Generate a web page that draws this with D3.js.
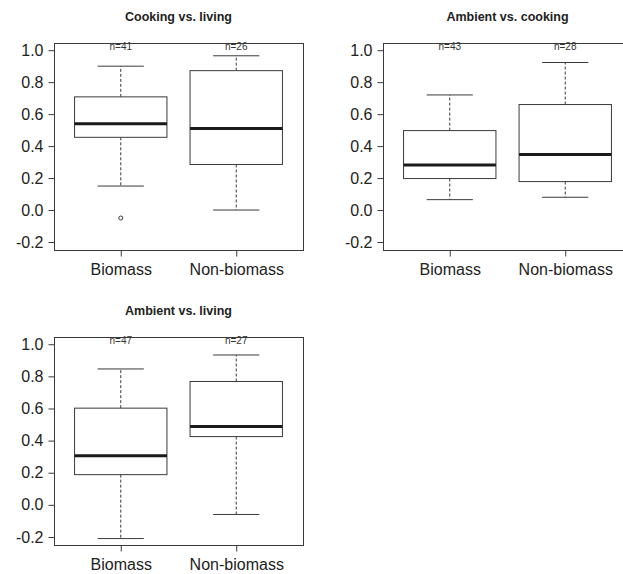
<!DOCTYPE html>
<html>
<head>
<meta charset="utf-8">
<script src="https://cdn.jsdelivr.net/npm/d3@7"></script>
<style>
  html, body { margin: 0; padding: 0; background: #fff; }
  svg { display: block; font-family: "Liberation Sans", Arial, sans-serif; }
</style>
</head>
<body>
<div id="chart"></div>
<script>
// --- data ---
const categories = ['Biomass', 'Non-biomass'];
const titles = ['Cooking vs. living', 'Ambient vs. cooking', 'Ambient vs. living'];
const counts = [[41, 26], [43, 28], [47, 27]];
const lowerWhisker = [[0.15, 0.00], [0.065, 0.08], [-0.21, -0.06]];
const lowerQuartile = [[0.455, 0.285], [0.197, 0.178], [0.188, 0.425]];
const medians = [[0.54, 0.51], [0.282, 0.348], [0.305, 0.488]];
const upperQuartile = [[0.708, 0.872], [0.497, 0.66], [0.602, 0.768]];
const upperWhisker = [[0.90, 0.965], [0.72, 0.923], [0.846, 0.933]];
const outliers = [[[-0.05], []], [[], []], [[], []]];
const yTicks = [-0.2, 0.0, 0.2, 0.4, 0.6, 0.8, 1.0];
const yTickLabels = ['-0.2', '0.0', '0.2', '0.4', '0.6', '0.8', '1.0'];
const yDomain = [-0.25, 1.045];

const W = 623, H = 574;
// plot region of each panel (the second one runs past the right edge)
const panels = [
  { left: 54, top: 43, width: 249, height: 207 },
  { left: 383, top: 43, width: 249, height: 207 },
  { left: 54, top: 337, width: 249, height: 208 }
];

const lineColor = '#3a3a3a';
const font = '"Liberation Sans", Arial, sans-serif';

const svg = d3.select('#chart').append('svg')
  .attr('width', W)
  .attr('height', H);

panels.forEach((p, pi) => {
  const x = d3.scalePoint()
    .domain(categories)
    .range([p.left, p.left + p.width])
    .padding(0.578);

  const y = d3.scaleLinear()
    .domain(yDomain)
    .range([p.top + p.height, p.top]);

  const boxW = x.step() * 0.8;
  const capW = boxW * 0.5;

  const g = svg.append('g');

  // frame
  g.append('rect')
    .attr('x', p.left + 0.5)
    .attr('y', p.top + 0.5)
    .attr('width', p.width)
    .attr('height', p.height)
    .attr('fill', 'none')
    .attr('stroke', lineColor)
    .attr('stroke-width', 1);

  // y axis: R style, line spans first to last tick
  const yAxis = g.append('g')
    .attr('transform', `translate(${p.left + 0.5},0)`)
    .call(d3.axisLeft(y)
      .tickValues(yTicks)
      .tickSize(6)
      .tickPadding(5)
      .tickFormat((d, i) => yTickLabels[i]));
  yAxis.select('.domain').remove();
  yAxis.selectAll('.tick line').attr('stroke', lineColor);
  yAxis.selectAll('.tick text')
    .attr('fill', '#222')
    .style('font-size', '16px')
    .style('font-family', font);
  yAxis.append('line')
    .attr('x1', 0).attr('x2', 0)
    .attr('y1', y(yTicks[0]))
    .attr('y2', y(yTicks[yTicks.length - 1]))
    .attr('stroke', lineColor);

  // x axis
  const xAxis = g.append('g')
    .attr('transform', `translate(0,${p.top + p.height + 0.5})`)
    .call(d3.axisBottom(x).tickSize(6).tickPadding(6));
  xAxis.select('.domain').remove();
  xAxis.selectAll('.tick line').attr('stroke', lineColor);
  xAxis.selectAll('.tick text')
    .attr('fill', '#222')
    .attr('dy', '0.76em')
    .style('font-size', '16px')
    .style('font-family', font);

  // title
  g.append('text')
    .attr('x', p.left + p.width / 2)
    .attr('y', p.top - 22.5)
    .attr('text-anchor', 'middle')
    .attr('font-weight', 'bold')
    .attr('font-size', '12.5px')
    .attr('fill', '#222')
    .text(titles[pi]);

  const rows = categories.map((c, i) => ({
    cat: c,
    lo: lowerWhisker[pi][i],
    q1: lowerQuartile[pi][i],
    med: medians[pi][i],
    q3: upperQuartile[pi][i],
    hi: upperWhisker[pi][i],
    out: outliers[pi][i],
    n: counts[pi][i]
  }));

  const box = g.selectAll('g.box')
    .data(rows)
    .join('g')
    .attr('class', 'box');

  // whiskers
  box.append('line')
    .attr('x1', d => x(d.cat)).attr('x2', d => x(d.cat))
    .attr('y1', d => y(d.q3)).attr('y2', d => y(d.hi))
    .attr('stroke', lineColor)
    .attr('stroke-dasharray', '3,2');
  box.append('line')
    .attr('x1', d => x(d.cat)).attr('x2', d => x(d.cat))
    .attr('y1', d => y(d.q1)).attr('y2', d => y(d.lo))
    .attr('stroke', lineColor)
    .attr('stroke-dasharray', '3,2');

  // staples
  box.append('line')
    .attr('x1', d => x(d.cat) - capW / 2).attr('x2', d => x(d.cat) + capW / 2)
    .attr('y1', d => y(d.hi)).attr('y2', d => y(d.hi))
    .attr('stroke', lineColor);
  box.append('line')
    .attr('x1', d => x(d.cat) - capW / 2).attr('x2', d => x(d.cat) + capW / 2)
    .attr('y1', d => y(d.lo)).attr('y2', d => y(d.lo))
    .attr('stroke', lineColor);

  // box
  box.append('rect')
    .attr('x', d => x(d.cat) - boxW / 2)
    .attr('y', d => y(d.q3))
    .attr('width', boxW)
    .attr('height', d => y(d.q1) - y(d.q3))
    .attr('fill', '#fff')
    .attr('stroke', lineColor);

  // median
  box.append('line')
    .attr('x1', d => x(d.cat) - boxW / 2).attr('x2', d => x(d.cat) + boxW / 2)
    .attr('y1', d => y(d.med)).attr('y2', d => y(d.med))
    .attr('stroke', '#1a1a1a')
    .attr('stroke-width', 3);

  // outliers
  box.selectAll('circle')
    .data(d => d.out.map(v => ({ cat: d.cat, v })))
    .join('circle')
    .attr('cx', d => x(d.cat))
    .attr('cy', d => y(d.v))
    .attr('r', 2)
    .attr('fill', 'none')
    .attr('stroke', lineColor);

  // sample size labels
  box.append('text')
    .attr('x', d => x(d.cat))
    .attr('y', p.top + 6.5)
    .attr('text-anchor', 'middle')
    .attr('font-size', '10px')
    .attr('fill', '#333')
    .text(d => `n=${d.n}`);
});
</script>
</body>
</html>
